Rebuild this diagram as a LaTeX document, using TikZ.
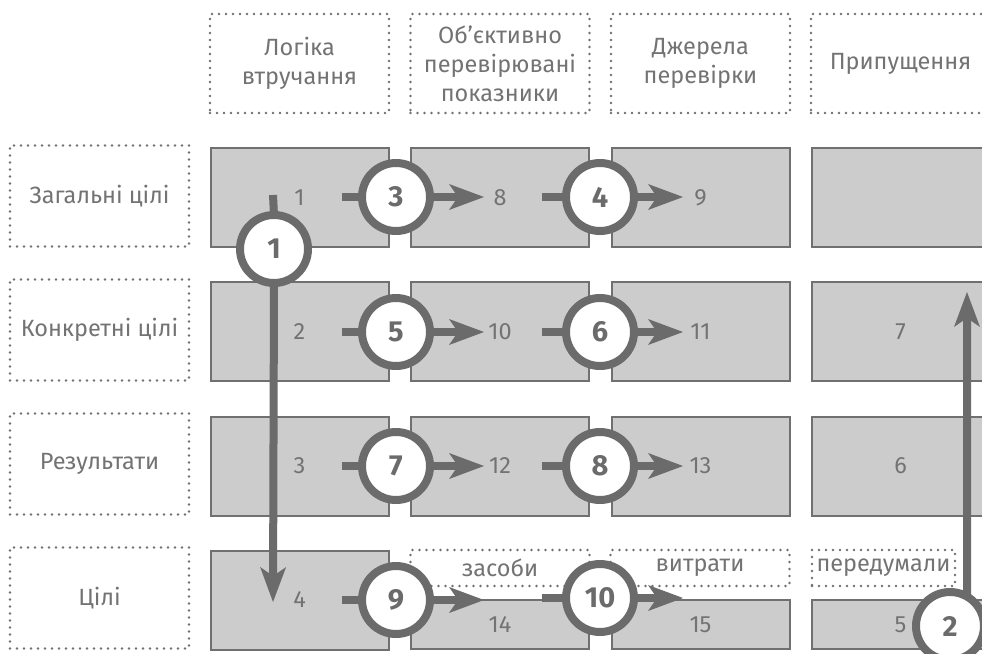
\documentclass[tikz,border=0pt]{standalone}
\usepackage{fontspec}
\setmainfont{Fira Sans}[BoldFont=* Bold]
\usetikzlibrary{arrows.meta}
\definecolor{ink}{HTML}{6B6B6B}
\definecolor{txt}{HTML}{737373}
\definecolor{cell}{HTML}{CCCCCC}
\definecolor{edge}{HTML}{707070}
\begin{document}
\begin{tikzpicture}[x=1pt,y=-1pt,
  cellbox/.style={draw=edge, fill=cell, line width=2pt, minimum width=178pt,
    minimum height=99pt, inner sep=0pt, outer sep=0pt, text=txt,
    font=\fontsize{23.5}{29}\selectfont},
  lowcell/.style={cellbox, minimum height=49pt},
  dotbox/.style={draw=edge, line width=2.8pt, dash pattern=on 0pt off 7pt,
    line cap=round, minimum width=179pt, minimum height=99pt, inner sep=0pt,
    text=txt, align=center, font=\fontsize{23.5}{29}\selectfont},
  tagbox/.style={dotbox, minimum height=36pt},
  ring/.style={circle, draw=ink, line width=8pt, fill=white, minimum size=68pt,
    inner sep=0pt, outer sep=0pt, text=ink,
    font=\bfseries\fontsize{29}{29}\selectfont},
  flow/.style={draw=ink, line width=8pt,
    -{Stealth[length=35pt, width=26pt, inset=9pt, line width=0pt]}},
  stub/.style={draw=ink, line width=8pt}
]
\useasboundingbox (0,0) rectangle (982,653);

% column headers
\node[dotbox] (h1) at (299.5,63.5) {Логіка\\втручання};
\node[dotbox] (h2) at (500,63.5) {Об’єктивно\\перевірювані\\показники};
\node[dotbox] (h3) at (700.5,63.5) {Джерела\\перевірки};
\node[dotbox] (h4) at (900.5,63.5) {Припущення};

% row headers
\node[dotbox, minimum height=101pt] (r1) at (99.5,196) {Загальні цілі};
\node[dotbox, minimum height=101pt] (r2) at (99.5,330) {Конкретні цілі};
\node[dotbox, minimum height=101pt] (r3) at (99.5,464) {Результати};
\node[dotbox, minimum height=101pt] (r4) at (99.5,598) {Цілі};

% matrix cells
\node[cellbox] (b1) at (299.5,197.5) {1};
\node[cellbox] (b8) at (500,197.5) {8};
\node[cellbox] (b9) at (700.5,197.5) {9};
\node[cellbox] (bx) at (900.5,197.5) {};
\node[cellbox] (b2) at (299.5,331.5) {2};
\node[cellbox] (b10) at (500,331.5) {10};
\node[cellbox] (b11) at (700.5,331.5) {11};
\node[cellbox] (b7) at (900.5,331.5) {7};
\node[cellbox] (b3) at (299.5,466) {3};
\node[cellbox] (b12) at (500,466) {12};
\node[cellbox] (b13) at (700.5,466) {13};
\node[cellbox] (b6) at (900.5,466) {6};
\node[cellbox] (b4) at (299.5,600) {4};
\node[lowcell] (b14) at (500,624.5) {14};
\node[lowcell] (b15) at (700.5,624.5) {15};
\node[lowcell] (b5) at (900.5,624.5) {5};

% resource tags above the bottom cells
\node[tagbox] (t1) at (500,568) {засоби};
\node[tagbox] (t2) at (700,568) {витрати};
\node[tagbox, minimum width=143pt] (t3) at (883.5,568) {передумали};

% numbered steps
\node[ring] (c1) at (274,249) {1};
\node[ring] (c2) at (950,626) {2};
\node[ring] (c3) at (396,197) {3};
\node[ring] (c4) at (600,197) {4};
\node[ring] (c5) at (396,332) {5};
\node[ring] (c6) at (600,332) {6};
\node[ring] (c7) at (396,466) {7};
\node[ring] (c8) at (600,466) {8};
\node[ring] (c9) at (396,600) {9};
\node[ring] (c10) at (600,598) {10};

% connector ends
\coordinate (s1) at (273,195);
\coordinate (e1) at (273,602);
\coordinate (e2) at (967,292);
\foreach \n/\y in {3/197,5/332,7/466,9/600}{
  \coordinate (s\n) at (342,\y);
  \coordinate (e\n) at (484,\y);
}
\foreach \n/\y in {4/197,6/332,8/466,10/598}{
  \coordinate (s\n) at (542,\y);
  \coordinate (e\n) at (683,\y);
}

% connectors
\draw[stub] (s1) -- (c1.north);
\draw[flow] (c1.south) -- (e1);
\draw[flow] (c2.60) -- (e2);
\foreach \n in {3,4,5,6,7,8,9,10}{
  \draw[stub] (s\n) -- (c\n.west);
  \draw[flow] (c\n.east) -- (e\n);
}
\end{tikzpicture}
\end{document}
